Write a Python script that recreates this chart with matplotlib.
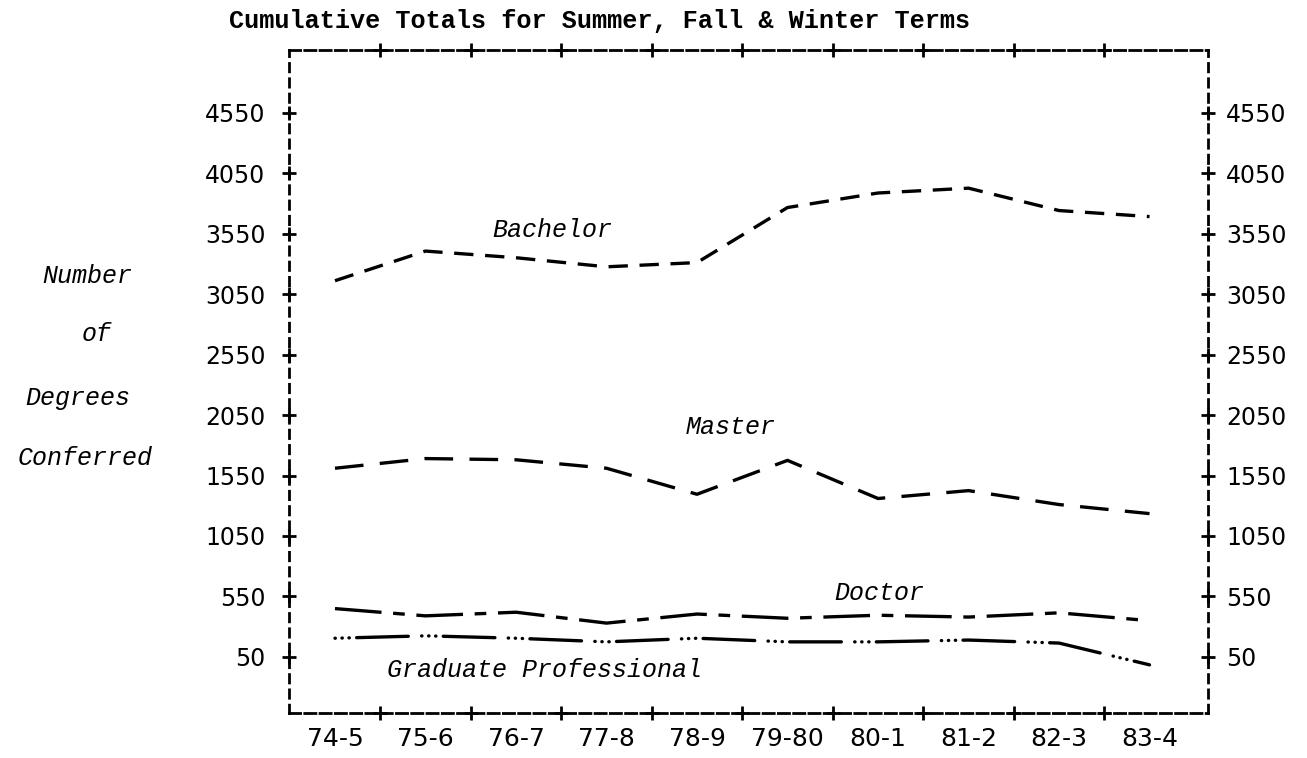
import matplotlib
matplotlib.use('Agg')
import matplotlib.pyplot as plt

# Datos
years = ['74-5', '75-6', '76-7', '77-8', '78-9', '79-80', '80-1', '81-2', '82-3', '83-4']
bachelor = [3160, 3405, 3350, 3275, 3310, 3765, 3885, 3925, 3740, 3690]
master = [1610, 1690, 1680, 1610, 1395, 1675, 1360, 1425, 1310, 1235]
doctor = [450, 390, 420, 330, 405, 370, 395, 380, 415, 350]
grad_prof = [205, 225, 205, 175, 205, 175, 175, 190, 165, -15]
y_ticks = [50, 550, 1050, 1550, 2050, 2550, 3050, 3550, 4050, 4550]

W, H = 1307, 758
fig = plt.figure(figsize=(W / 100, H / 100), dpi=100)
ax = fig.add_axes([289 / W, 1 - 713 / H, (1208 - 289) / W, (713 - 50) / H])

x = list(range(len(years)))
lw = 2.4
ax.plot(x, bachelor, color='black', lw=lw, linestyle=(0, (5.8, 3.5)))
ax.plot(x, master, color='black', lw=lw, linestyle=(0, (8.6, 4.9)))
ax.plot(x, doctor, color='black', lw=lw, linestyle=(0, (14, 3.5, 3.5, 3.5)))
ax.plot(x, grad_prof, color='black', lw=lw, dash_capstyle='round',
        linestyle=(0, (0.1, 2.0, 0.1, 2.0, 0.1, 2.2, 15.5, 4.0)))

ax.set_xlim(-0.508, 9.646)
ax.set_ylim(-413, 5067)

# Marco punteado
for side in ['top', 'bottom']:
    ax.spines[side].set_linestyle((0, (4, 1.5)))
    ax.spines[side].set_linewidth(2)
for side in ['left', 'right']:
    ax.spines[side].set_linestyle((0, (3, 2.5)))
    ax.spines[side].set_linewidth(2)

# Marcas "+" sobre el marco
xmid = [i + 0.5 for i in range(len(years) - 1)]
x0, x1 = ax.get_xlim()
y0, y1 = ax.get_ylim()
mk = dict(color='black', ms=9.5, mew=2, clip_on=False, linestyle='none')
ax.plot(xmid, [y1] * len(xmid), '+', **mk)
ax.plot(xmid, [y0] * len(xmid), '+', **mk)
ax.plot([x0] * len(y_ticks), y_ticks, '+', **mk)
ax.plot([x1] * len(y_ticks), y_ticks, '+', **mk)

ax.set_xticks(x)
ax.set_xticklabels(years)
ax.set_yticks(y_ticks)
ax.tick_params(axis='x', length=0, pad=10, labelsize=18)
ax.tick_params(axis='y', length=0, pad=17, labelsize=17)

# Eje derecho con sus propias etiquetas
ax2 = ax.twinx()
ax2.set_ylim(y0, y1)
ax2.set_yticks(y_ticks)
ax2.tick_params(axis='y', length=0, pad=13, labelsize=17)
for s in ax2.spines.values():
    s.set_visible(False)

# Etiquetas de series
lab_font = dict(family='Liberation Mono', style='italic', fontsize=18)
ax.text(1.74, 3580, 'Bachelor', ha='left', va='center', **lab_font)
ax.text(3.87, 1950, 'Master', ha='left', va='center', **lab_font)
ax.text(5.52, 580, 'Doctor', ha='left', va='center', **lab_font)
ax.text(0.57, -57, 'Graduate Professional', ha='left', va='center', **lab_font)

# Titulo del eje Y
for word, px, py in zip(['Number', 'of', 'Degrees', 'Conferred'],
                        [132, 112, 130, 153], [276, 334, 398, 458]):
    fig.text(px / W, 1 - py / H, word, ha='right', va='center', **lab_font)

fig.text(600 / W, 1 - 21 / H, 'Cumulative Totals for Summer, Fall & Winter Terms',
         ha='center', va='center', family='Liberation Mono', fontsize=18.2,
         weight='bold')

fig.savefig('out.png', dpi=100)
